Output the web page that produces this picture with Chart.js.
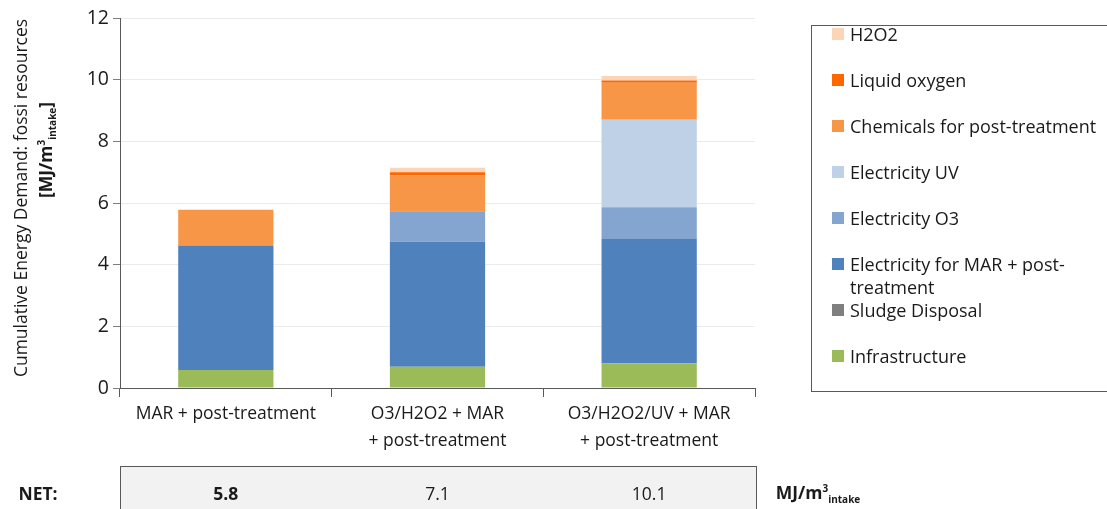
<!DOCTYPE html>
<html>
<head>
<meta charset="utf-8">
<script src="https://cdn.jsdelivr.net/npm/chart.js@4.4.1/dist/chart.umd.min.js"></script>
<style>
  body { margin: 0; background: #fff; font-family: "Open Sans", sans-serif; color: #1a1a1a; }
  #wrap { position: relative; width: 1107px; height: 509px; overflow: hidden; }
  #c { position: absolute; left: 0; top: 0; }
  .ytitle { position: absolute; white-space: nowrap; transform: translate(-50%, -50%) rotate(-90deg); font-size: 17.5px; }
  #legend { position: absolute; left: 811px; top: 25px; width: 320px; height: 365px; border: 1px solid #595959; background: #fff; }
  .litem { position: absolute; left: 38px; font-size: 18px; line-height: 23px; width: 270px; }
  .lbox { position: absolute; left: -18px; top: 5px; width: 12px; height: 12px; }
  #table { position: absolute; background: #f2f2f2; border: 1px solid #595959; }
  .cell { position: absolute; transform: translate(-50%, -50%); font-size: 17.5px; }
</style>
</head>
<body>
<div id="wrap">
  <canvas id="c" width="1107" height="509"></canvas>
  <div class="ytitle" style="left:20px; top:198px;">Cumulative Energy Demand: fossi resources</div>
  <div class="ytitle" style="left:46px; top:150px; font-weight:bold;">[MJ/m<sup style="font-size:10px">3</sup><sub style="font-size:10px">intake</sub>]</div>
  <div id="legend"></div>
  <div id="table"></div>
  <div class="cell" style="left:38px; top:493px; font-weight:bold;">NET:</div>
  <div class="cell" style="left:818px; top:493px; font-weight:bold;">MJ/m<sup style="font-size:10px">3</sup><sub style="font-size:10px">intake</sub></div>
</div>
<script>
// categorias y series (de abajo hacia arriba)
const categories = [['MAR + post-treatment'], ['O3/H2O2 + MAR', '+ post-treatment'], ['O3/H2O2/UV + MAR', '+ post-treatment']];
const yTicks = [0, 2, 4, 6, 8, 10, 12];

const infrastructure = [0.58, 0.69, 0.80];
const sludgeDisposal = [0, 0, 0];
const electricityMar = [4.04, 4.05, 4.03];
const electricityO3 = [0, 0.99, 1.03];
const electricityUV = [0, 0, 2.84];
const chemicals = [1.16, 1.17, 1.20];
const liquidOxygen = [0, 0.10, 0.07];
const h2o2 = [0, 0.14, 0.15];

const netValues = ['5.8', '7.1', '10.1'];

const series = [
  { label: 'Infrastructure', data: infrastructure, color: '#9bbb59' },
  { label: 'Sludge Disposal', data: sludgeDisposal, color: '#7f7f7f' },
  { label: 'Electricity for MAR + post-treatment', data: electricityMar, color: '#4f81bd' },
  { label: 'Electricity O3', data: electricityO3, color: '#83a5cf' },
  { label: 'Electricity UV', data: electricityUV, color: '#bfd1e6' },
  { label: 'Chemicals for post-treatment', data: chemicals, color: '#f79646' },
  { label: 'Liquid oxygen', data: liquidOxygen, color: '#ff6600' },
  { label: 'H2O2', data: h2o2, color: '#fbd5b5' }
];

const ctx = document.getElementById('c').getContext('2d');
const chart = new Chart(ctx, {
  type: 'bar',
  data: {
    labels: categories,
    datasets: series.map(s => ({
      label: s.label,
      data: s.data,
      backgroundColor: s.color,
      borderWidth: 0,
      categoryPercentage: 1,
      barPercentage: 0.45
    }))
  },
  options: {
    responsive: false,
    animation: false,
    devicePixelRatio: 1,
    layout: { padding: { top: 18, right: 352, left: 0, bottom: 0 } },
    plugins: { legend: { display: false }, tooltip: { enabled: false } },
    scales: {
      x: {
        stacked: true,
        afterFit: s => { s.height = 121; },
        grid: { drawOnChartArea: false, drawTicks: true, tickLength: 9, color: '#595959', offset: true },
        border: { color: '#595959', width: 1 },
        ticks: { color: '#1a1a1a', font: { family: 'Open Sans', size: 17.5, lineHeight: 1.55 }, padding: 3, maxRotation: 0 }
      },
      y: {
        stacked: true,
        min: 0,
        max: 12,
        afterFit: s => { s.width = 120; },
        afterBuildTicks: s => { s.ticks = yTicks.map(v => ({ value: v })); },
        grid: { color: '#ebebeb', tickColor: '#7f7f7f', tickLength: 7 },
        border: { color: '#595959', width: 1 },
        ticks: { color: '#1a1a1a', font: { family: 'Open Sans', size: 19.5 }, padding: 4 }
      }
    }
  }
});

// leyenda en orden inverso
const legend = document.getElementById('legend');
series.slice().reverse().forEach((s, i) => {
  const item = document.createElement('div');
  item.className = 'litem';
  item.style.top = (35 + 46 * i - 11.5 - 27) + 'px';
  let txt = s.label;
  if (txt === 'Electricity for MAR + post-treatment') txt = 'Electricity for MAR + post-<br>treatment';
  item.innerHTML = `<span class="lbox" style="background:${s.color}"></span>${txt}`;
  legend.appendChild(item);
});

// tabla NET debajo del grafico
const area = chart.chartArea;
const table = document.getElementById('table');
table.style.left = area.left + 'px';
table.style.top = '466px';
table.style.width = (area.right - area.left) + 'px';
table.style.height = '60px';
const wrap = document.getElementById('wrap');
netValues.forEach((v, i) => {
  const cell = document.createElement('div');
  cell.className = 'cell';
  cell.style.left = chart.scales.x.getPixelForValue(i) + 'px';
  cell.style.top = '493px';
  if (i === 0) cell.style.fontWeight = 'bold';
  cell.textContent = v;
  wrap.appendChild(cell);
});
</script>
</body>
</html>
